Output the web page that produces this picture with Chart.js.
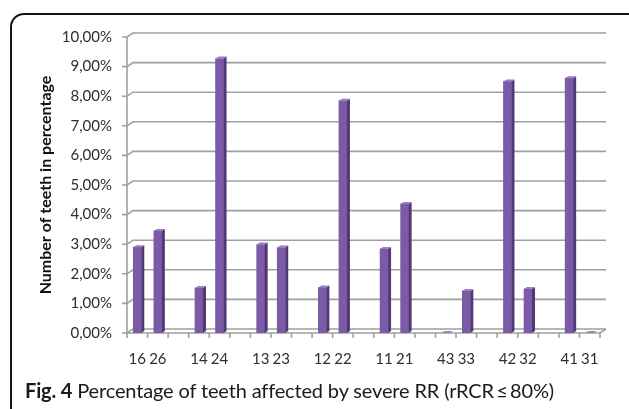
<!DOCTYPE html>
<html>
<head>
<meta charset="utf-8">
<script src="https://cdn.jsdelivr.net/npm/chart.js@4"></script>
<style>
  html, body { margin: 0; padding: 0; background: #fff; }
  body { width: 629px; height: 409px; overflow: hidden; position: relative; }
  #frame {
    position: absolute; left: 10px; top: 13px; width: 640px; height: 420px;
    border: 2px solid #151515; border-radius: 14px; box-sizing: border-box;
  }
  #chart { position: absolute; left: 0; top: 0; }
  #caption {
    position: absolute; left: 25px; top: 380px; white-space: nowrap;
    font-family: 'Lato', sans-serif; font-size: 20px; line-height: 20px; color: #1a1a1a;
    letter-spacing: -0.15px;
  }
  #caption b { font-weight: 700; }
</style>
</head>
<body>
<div id="frame"></div>
<canvas id="chart" width="629" height="409"></canvas>
<div id="caption"><b>Fig. 4</b> Percentage of teeth affected by severe RR (rRCR&#8201;≤&#8201;80%)</div>
<script>
// Tooth pairs (upper/lower counterparts) and share of each tooth with severe RR, in %
const firstTooth  = ['16', '14', '13', '12', '11', '43', '42', '41'];
const secondTooth = ['26', '24', '23', '22', '21', '33', '32', '31'];
const firstPct    = [2.90, 1.52, 2.99, 1.54, 2.84, 0.00, 8.50, 8.61];
const secondPct   = [3.45, 9.27, 2.89, 7.85, 4.36, 1.42, 1.49, 0.00];
const yMin = 0, yMax = 10, yStep = 1;

// One slot per tooth, with an empty slot between pairs
const labels = [];
const values = [];
firstTooth.forEach((t, i) => {
  labels.push(t, secondTooth[i]);
  values.push(firstPct[i], secondPct[i]);
  if (i < firstTooth.length - 1) { labels.push(''); values.push(null); }
});

const GRID = '#a0a0a0';
const WALL = { dx: 6, dy: -4 };   // depth of the back wall
const BAR3D = { dx: 3, dy: -2 };  // depth of each column

// Back wall gridlines, floor and tick marks in a light 3D style
const wallPlugin = {
  id: 'wall',
  beforeDatasetsDraw(chart) {
    const { ctx, chartArea: a, scales: { x, y } } = chart;
    ctx.save();
    ctx.strokeStyle = GRID;
    ctx.lineWidth = 1.6;
    // front vertical axis
    ctx.beginPath();
    ctx.moveTo(a.left, y.getPixelForValue(yMax));
    ctx.lineTo(a.left, a.bottom);
    ctx.stroke();
    y.ticks.forEach(t => {
      const py = y.getPixelForValue(t.value);
      ctx.beginPath();
      ctx.moveTo(a.left - 5, py);
      ctx.lineTo(a.left, py);
      ctx.lineTo(a.left + WALL.dx, py + WALL.dy);
      ctx.lineTo(a.right + WALL.dx, py + WALL.dy);
      ctx.stroke();
    });
    // floor front edge and right corner
    ctx.beginPath();
    ctx.moveTo(a.left, a.bottom);
    ctx.lineTo(a.right, a.bottom);
    ctx.lineTo(a.right + WALL.dx, a.bottom + WALL.dy);
    ctx.stroke();
    // category tick marks at slot boundaries
    const n = labels.length;
    const w = (a.right - a.left) / n;
    ctx.beginPath();
    for (let i = 0; i <= n; i++) {
      const px = a.left + i * w;
      ctx.moveTo(px, a.bottom);
      ctx.lineTo(px, a.bottom + 5);
    }
    ctx.stroke();
    ctx.restore();
  }
};

// Side and top faces of each column
const columnPlugin = {
  id: 'column3d',
  afterDatasetsDraw(chart) {
    const { ctx } = chart;
    const meta = chart.getDatasetMeta(0);
    ctx.save();
    meta.data.forEach((bar, i) => {
      if (values[i] === null) return;
      const { x, y, base, width } = bar.getProps(['x', 'y', 'base', 'width'], true);
      const l = x - width / 2, r = x + width / 2;
      ctx.fillStyle = '#523879';
      ctx.beginPath();
      ctx.moveTo(r, y);
      ctx.lineTo(r + BAR3D.dx, y + BAR3D.dy);
      ctx.lineTo(r + BAR3D.dx, base + BAR3D.dy);
      ctx.lineTo(r, base);
      ctx.closePath();
      ctx.fill();
      ctx.fillStyle = '#9a7fc0';
      ctx.beginPath();
      ctx.moveTo(l, y);
      ctx.lineTo(l + BAR3D.dx, y + BAR3D.dy);
      ctx.lineTo(r + BAR3D.dx, y + BAR3D.dy);
      ctx.lineTo(r, y);
      ctx.closePath();
      ctx.fill();
    });
    ctx.restore();
  }
};

new Chart(document.getElementById('chart'), {
  type: 'bar',
  data: {
    labels,
    datasets: [{
      data: values,
      backgroundColor: '#7b5ba5',
      borderWidth: 0,
      barThickness: 8
    }]
  },
  options: {
    responsive: false,
    animation: false,
    layout: { padding: { left: 0, right: 29, top: 37, bottom: 0 } },
    plugins: { legend: { display: false }, tooltip: { enabled: false } },
    scales: {
      x: {
        grid: { display: false, drawTicks: false },
        border: { display: false },
        ticks: {
          autoSkip: false, maxRotation: 0, padding: 17,
          color: '#2e2e2e', font: { family: 'Lato', size: 15 }
        },
        afterFit(scale) { scale.height = 76; }
      },
      y: {
        min: yMin, max: yMax,
        grid: { display: false, drawTicks: false },
        border: { display: false },
        ticks: {
          stepSize: yStep, padding: 15, color: '#2e2e2e',
          font: { family: 'Lato', size: 15 },
          callback: v => v.toFixed(2).replace('.', ',') + '%'
        },
        title: {
          display: true, text: 'Number of teeth in percentage',
          color: '#111111', font: { family: 'Lato', size: 16, weight: 'bold' },
          padding: { top: 36, bottom: 0 }
        },
        afterFit(scale) { scale.width = 127; }
      }
    }
  },
  plugins: [wallPlugin, columnPlugin]
});
</script>
</body>
</html>
